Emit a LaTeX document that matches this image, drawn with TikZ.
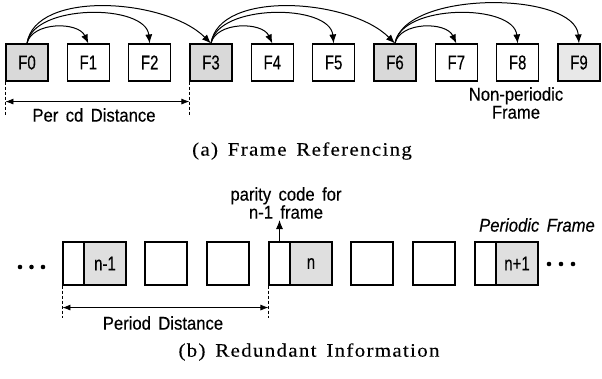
\documentclass[tikz,border=0pt]{standalone}
\usepackage{fontspec}
\setmainfont{Liberation Sans}
\newfontfamily\labfont[FakeStretch=0.9,WordSpace=1.6,FakeBold=0.3]{Liberation Sans}
\newfontfamily\flabfont[FakeStretch=0.75,FakeBold=0.3]{Liberation Sans}
\newfontfamily\capfont[FakeStretch=1.1,LetterSpace=7,WordSpace=1.5,FakeBold=0.2]{Liberation Serif}
\usetikzlibrary{arrows.meta}
\tikzset{
  fbox/.style={draw, line width=1.1pt, minimum width=42pt, minimum height=37pt, inner sep=0pt,
    font=\flabfont\fontsize{20}{20}\selectfont},
  fshade/.style={fbox, fill=gray!30},
  bbox/.style={draw, line width=1.1pt, minimum width=42pt, minimum height=43pt, inner sep=0pt,
    font=\flabfont\fontsize{20}{20}\selectfont},
  bhalf/.style={bbox, minimum width=21pt},
  bshade/.style={bbox, fill=gray!25},
  refarrow/.style={-{Latex[length=9pt,width=7pt]}, line width=1pt},
  dimarrow/.style={{Latex[length=8pt,width=6pt]}-{Latex[length=8pt,width=6pt]}, line width=0.8pt},
  guide/.style={line width=0.7pt, dash pattern=on 3pt off 2pt},
  lab/.style={font=\labfont\fontsize{18.5}{18}\selectfont, inner sep=0pt, align=center},
  capt/.style={font=\capfont\fontsize{19}{20}\selectfont, inner sep=0pt},
  dotc/.style={fill=black}
}
\begin{document}
\begin{tikzpicture}[x=1pt,y=-1pt]
\useasboundingbox (0,0) rectangle (602,378);
% ---- (a) frame referencing ----
\foreach \i in {0,...,9}{
  \pgfmathsetmacro{\xx}{27+61.33*\i}
  \ifnum\i=0 \node[fshade] (F\i) at (\xx,62.5) {F\i};
  \else\ifnum\i=3 \node[fshade] (F\i) at (\xx,62.5) {F\i};
  \else\ifnum\i=6 \node[fshade] (F\i) at (\xx,62.5) {F\i};
  \else\ifnum\i=9 \node[fbox, fill=gray!18] (F\i) at (\xx,62.5) {F\i};
  \else \node[fbox] (F\i) at (\xx,62.5) {F\i};
  \fi\fi\fi\fi
}
\foreach \a/\b/\c/\d in {F0/F1/F2/F3, F3/F4/F5/F6, F6/F7/F8/F9}{
  \draw[refarrow] (\a.north) .. controls +(5,-22) and +(-10,-22) .. (\b.north);
  \draw[refarrow] (\a.north) .. controls +(6,-40) and +(-4,-40) .. (\c.north);
}
\draw[refarrow] (F0.north) .. controls +(8,-54) and +(-45,-45) .. (F3.north);
\draw[refarrow] (F3.north) .. controls +(8,-54) and +(-45,-45) .. (F6.north);
\draw[refarrow] (F6.north) .. controls +(10,-54) and +(-4,-52) .. (F9.north);
% dimension (a)
\draw[guide] (F0.south west) -- ++(0,33);
\draw[guide] (F3.south west) -- ++(0,33);
\draw[dimarrow] ([yshift=-20pt]F0.south west) -- ([yshift=-20pt]F3.south west);
\node[lab] (pdA) at (94,115) {Per cd Distance};
\node[lab] (np) at (516,103) {Non-periodic\\Frame};
\node[capt] (capA) at (302,151) {(a) Frame Referencing};
% ---- (b) redundant information ----
\node[bhalf]  (a1) at (73.5,263.5) {};
\node[bshade] (n1) at (105,263.5) {n-1};
\node[bbox]   (s1) at (166,263.5) {};
\node[bbox]   (s2) at (228,263.5) {};
\node[bhalf]  (a2) at (279.5,263.5) {};
\node[bshade] (n2) at (311,263.5) {n};
\node[bbox]   (s3) at (372,263.5) {};
\node[bbox]   (s4) at (434,263.5) {};
\node[bhalf]  (a3) at (485.5,263.5) {};
\node[bshade] (n3) at (517,263.5) {n+1};
% dots
\foreach \x in {20,31.5,43} \fill[dotc] (\x,267) circle (2.3);
\foreach \x in {549,561,573} \fill[dotc] (\x,264) circle (2.3);
% parity arrow
\coordinate (pt) at (279.5,220);
\draw[refarrow] (a2.north) -- (pt);
\node[lab] (par) at (286,203) {parity code for\\n-1 frame};
\node[lab, font=\labfont\itshape\fontsize{18.5}{18}\selectfont] (pf) at (537,225) {Periodic Frame};
% dimension (b)
\draw[guide] (a1.south west) -- ++(0,32);
\draw[guide] (a2.south west) -- ++(0,32);
\draw[dimarrow] ([yshift=-22pt]a1.south west) -- ([yshift=-22pt]a2.south west);
\node[lab] (pdB) at (163,323) {Period Distance};
\node[capt] (capB) at (309,352) {(b) Redundant Information};
\end{tikzpicture}
\end{document}
